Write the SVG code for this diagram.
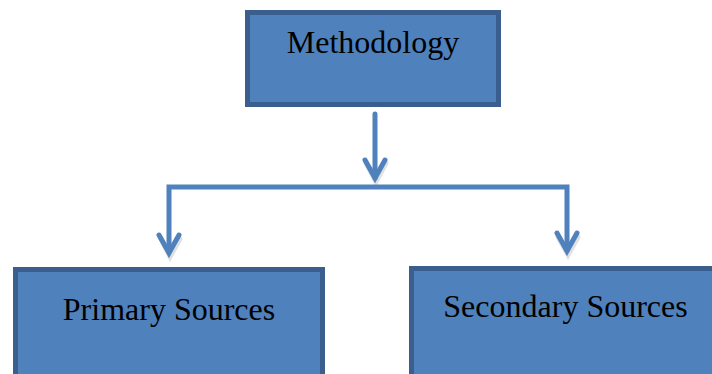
<svg xmlns="http://www.w3.org/2000/svg" width="712" height="374" viewBox="0 0 712 374">
  <style>
    .box { fill: #4f81bd; stroke: #3a5f8e; stroke-width: 5; }
    .label { font-family: "Liberation Serif", "Times New Roman", serif; font-size: 32px; fill: #000; text-anchor: middle; }
    .wire { fill: none; stroke: #4f81bd; stroke-width: 5; stroke-linecap: round; stroke-linejoin: miter; }
    .shade { fill: none; stroke: #000; stroke-opacity: 0.12; stroke-width: 5; stroke-linecap: round; }
  </style>
  <rect width="712" height="374" fill="#fff"/>

  <g id="methodology">
    <rect class="box" x="247.5" y="12.5" width="251" height="92"/>
    <text class="label" x="373" y="53">Methodology</text>
  </g>

  <g id="primary-sources">
    <rect class="box" x="15.5" y="269.5" width="307" height="115"/>
    <text class="label" x="169" y="320">Primary Sources</text>
  </g>

  <g id="secondary-sources">
    <rect class="box" x="411.5" y="268.5" width="310" height="115"/>
    <text class="label" x="565.5" y="317">Secondary Sources</text>
  </g>

  <g id="connectors">
    <!-- soft shadow under the arrowheads -->
    <path class="shade" d="M366 163 L376 182 L386 163 M161 239 L170 257 L180 239 M558 237 L568 255 L578 237"/>
    <!-- trunk from the top node -->
    <path class="wire" d="M375 114 L375 178"/>
    <path class="wire" d="M365 160 L375 178 L385 160"/>
    <!-- branch bar and drops -->
    <path class="wire" d="M169 252 L169 187 L567 187 L567 250" stroke-linecap="butt"/>
    <path class="wire" d="M159 235 L169 253 L179 235"/>
    <path class="wire" d="M557 233 L567 251 L577 233"/>
  </g>
</svg>
